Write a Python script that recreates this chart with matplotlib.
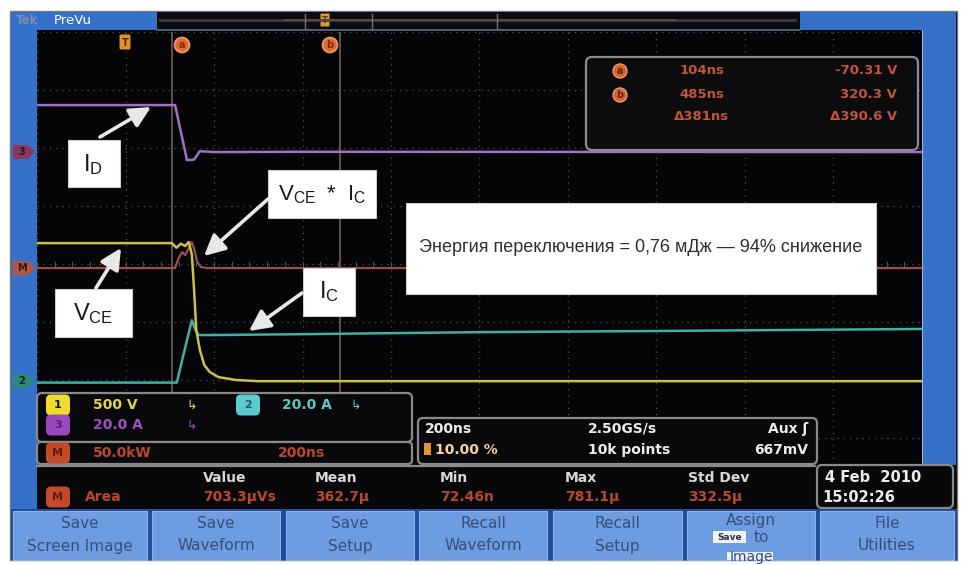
import matplotlib
matplotlib.use('Agg')
import matplotlib.pyplot as plt
from matplotlib.patches import FancyBboxPatch, Rectangle, Polygon, Circle

W, H = 962, 565

# ---------------- data (time in ns) ----------------
vce_t = [-200, 105, 115, 125, 135, 143, 150, 155, 160, 168, 178, 190, 210, 250, 300, 1800]
vce_v = [1190, 1190, 1150, 1185, 1165, 1200, 1090, 785, 440, 270, 140, 80, 35, 10, 0, 0]

ic_t = [-200, 116, 130, 150, 157, 165, 200, 400, 800, 1200, 1800]
ic_a = [-0.5, -0.5, 8.5, 21.0, 18.0, 15.9, 15.9, 16.2, 16.9, 17.3, 18.0]

id_t = [-200, 112, 139, 155, 168, 200, 400, 1800]
id_a = [16.2, 16.2, -2.8, -2.6, 0.3, 0.0, 0.1, 0.0]

pwr_t = [-200, 112, 120, 128, 135, 143, 150, 156, 162, 170, 185, 1800]
pwr_kw = [0, 0, 8.6, 13.8, 11.2, 17.2, 22.4, 15.5, 5.2, 0.9, 0, 0]

cursor_a_ns = 104
cursor_b_ns = 485
cursor_rows = [("a", "104ns", "-70.31 V"), ("b", "485ns", "320.3 V"), ("", "\u0394381ns", "\u0394390.6 V")]

ch_rows = [("1", "500 V"), ("2", "20.0 A"), ("3", "20.0 A"), ("M", "50.0kW")]
math_time = "200ns"
timebase = ["200ns", "10.00 %", "2.50GS/s", "10k points", "Aux \u0283", "667mV"]
meas_headers = ["Value", "Mean", "Min", "Max", "Std Dev"]
meas_values = ["703.3\u03bcVs", "362.7\u03bc", "72.46n", "781.1\u03bc", "332.5\u03bc"]
date_text = ["4 Feb  2010", "15:02:26"]
buttons = ["Save\nScreen Image", "Save\nWaveform", "Save\nSetup", "Recall\nWaveform",
           "Recall\nSetup", "Assign\n to\n", "File\nUtilities"]
energy_text = "Энергия переключения = 0,76 мДж — 94% снижение"

# channel display settings (div scale and ground position in divisions)
ch1_scale, ch1_gnd = 500.0, 1.98
ch2_scale, ch2_gnd = 20.0, 1.98
ch3_scale, ch3_gnd = 20.0, 5.93
m_scale, m_gnd = 50.0, 3.93

fig = plt.figure(figsize=(9.62, 5.65), dpi=100)
fig.patch.set_facecolor('white')

def px_axes(z):
    a = fig.add_axes([0, 0, 1, 1], zorder=z)
    a.set_xlim(0, W); a.set_ylim(H, 0); a.axis('off')
    a.patch.set_alpha(0)
    return a

bg = px_axes(0)
BLUE = '#3571c9'
# outer frame
bg.add_patch(Rectangle((10, 11), 947, 549, facecolor='#050507', edgecolor='#777777', lw=1))
# top bar
bg.add_patch(Rectangle((11, 12), 146, 18, facecolor=BLUE, edgecolor='none'))
bg.add_patch(Rectangle((157, 12), 643, 18, facecolor='#0b0c10', edgecolor='none'))
bg.add_patch(Rectangle((800, 12), 156, 18, facecolor=BLUE, edgecolor='none'))
bg.text(16, 21, "Tek", color='#7d8fb0', fontsize=8.5, fontweight='bold', va='center')
bg.text(54, 20, "PreVu", color='white', fontsize=9.5, va='center')
bg.plot([160, 795], [20, 20], color='#3b3b44', lw=2)
bg.plot([285, 675], [20, 20], color='#6a4a48', lw=1.2)
for xx in [305, 372, 497]:
    bg.plot([xx, xx], [14, 28], color='#6f6f78', lw=1)
bg.plot([157, 800], [29.5, 29.5], color='#5f6f88', lw=1.2)
bg.add_patch(FancyBboxPatch((321, 14), 8, 12, boxstyle='round,pad=0.5', facecolor='#d89a3a', edgecolor='none'))
bg.text(325, 20.5, "T", color='#5a3a10', fontsize=6, ha='center', va='center', fontweight='bold')
# side strips
bg.add_patch(Rectangle((11, 30), 26, 480, facecolor=BLUE, edgecolor='none'))
bg.add_patch(Rectangle((922, 30), 34, 435, facecolor=BLUE, edgecolor='none'))
bg.plot([922, 922], [30, 465], color='#9fb4d8', lw=0.8)
# screen background
bg.add_patch(Rectangle((37, 30), 885, 480, facecolor='#050508', edgecolor='none'))

# ---------------- graticule and traces ----------------
ax = fig.add_axes([37 / W, (H - 496) / H, 885 / W, 464 / H], zorder=1)
ax.set_facecolor('#050508')
ax.set_xlim(-200, 1800)
ax.set_ylim(0, 8)
for s in ax.spines.values():
    s.set_visible(False)
ax.set_xticks([]); ax.set_yticks([])
for k in range(11):
    ax.axvline(-200 + 200 * k, color='#505058', lw=0.9, ls=(0, (1, 4)))
for k in range(9):
    ax.axhline(k, color='#505058', lw=0.9, ls=(0, (1, 4)))
for k in range(51):
    x = -200 + 40 * k
    ax.plot([x, x], [3.96, 4.04], color='#505058', lw=0.8)

ax.axvline(cursor_a_ns, color='#7a6468', lw=1.1)
ax.axvline(cursor_b_ns, color='#7a6468', lw=1.1)

ax.plot(pwr_t, [m_gnd + v / m_scale for v in pwr_kw], color='#9a5046', lw=1.6)
ax.plot(id_t, [ch3_gnd + v / ch3_scale for v in id_a], color='#a070c4', lw=1.8)
ax.plot(ic_t, [ch2_gnd + v / ch2_scale for v in ic_a], color='#3fb0a4', lw=1.8)
ax.plot(vce_t, [ch1_gnd + v / ch1_scale for v in vce_v], color='#cdbf4e', lw=1.8)

# ---------------- overlay ----------------
ov = px_axes(3)

def rbox(x0, y0, x1, y1, fc='#0a0a0c', ec='#8a8a8a', lw=1.5, r=4, z=3):
    ov.add_patch(FancyBboxPatch((x0 + r, y0 + r), x1 - x0 - 2 * r, y1 - y0 - 2 * r,
                                boxstyle='round,pad=%g' % r, facecolor=fc, edgecolor=ec, lw=lw, zorder=z))

def badge(x, y, label, fc, tc='#101010', w=24, h=13):
    ov.add_patch(FancyBboxPatch((x - w / 2 + 5, y - h / 2 + 1), w - 10, h - 2,
                                boxstyle='round,pad=5', facecolor=fc, edgecolor='none', zorder=5))
    ov.text(x, y + 0.5, label, color=tc, fontsize=8, fontweight='bold', ha='center', va='center', zorder=6)

# left strip markers
for yy, lab, col in [(152, "3", '#8e3560'), (268, "M", '#b8563c'), (381, "2", '#2c8a7c')]:
    ov.add_patch(Polygon([[13, yy - 7], [28, yy - 7], [35, yy], [28, yy + 7], [13, yy + 7]],
                         closed=True, facecolor=col, edgecolor='none', zorder=4))
    ov.text(22, yy, lab, color='#1a1a2a', fontsize=7, ha='center', va='center', fontweight='bold', zorder=5)

# top markers
ov.add_patch(FancyBboxPatch((121, 36), 8, 12, boxstyle='round,pad=1.5', facecolor='#e0902e', edgecolor='none', zorder=4))
ov.text(125, 42.5, "T", color='#4a2a08', fontsize=7, fontweight='bold', ha='center', va='center', zorder=5)
for xx, lab in [(182, "a"), (330, "b")]:
    ov.add_patch(Circle((xx, 45), 7.5, facecolor='#e06a36', edgecolor='#f09a6a', lw=1.2, zorder=4))
    ov.text(xx, 45, lab, color='#7a2a10', fontsize=7, fontweight='bold', ha='center', va='center', zorder=5)

# cursor readout
rbox(586, 57, 918, 150, fc='#0c0c0e', ec='#8c8c8c', lw=1.6, r=6)
RED = '#c0553a'
for (lab, tv, vv), yy in zip(cursor_rows, [71, 95, 117]):
    if lab:
        ov.add_patch(Circle((620, yy), 7, facecolor='#d8642e', edgecolor='#f09a6a', lw=1, zorder=5))
        ov.text(620, yy, lab, color='#6a2008', fontsize=7, fontweight='bold', ha='center', va='center', zorder=6)
    ov.text(702, yy, tv, color=RED, fontsize=9.5, fontweight='bold', ha='center', va='center', zorder=6)
    ov.text(897, yy, vv, color=RED, fontsize=9.5, fontweight='bold', ha='right', va='center', zorder=6)

# white annotation boxes
def wbox(x0, y0, x1, y1):
    ov.add_patch(Rectangle((x0, y0), x1 - x0, y1 - y0, facecolor='white', edgecolor='#cccccc', lw=0.8, zorder=7))

LF = ['Liberation Sans', 'DejaVu Sans']
wbox(68, 140, 120, 187)
ov.text(93, 165, r'$\mathregular{I_D}$', fontsize=17, family=LF, color='#1a1a1a', ha='center', va='center', zorder=8)
wbox(268, 170, 376, 218)
ov.text(322, 195, r'$\mathregular{V_{CE}\ *\ I_C}$', fontsize=16, family=LF, color='#1a1a1a', ha='center', va='center', zorder=8)
wbox(55, 289, 132, 337)
ov.text(93, 314, r'$\mathregular{V_{CE}}$', fontsize=17, family=LF, color='#1a1a1a', ha='center', va='center', zorder=8)
wbox(303, 268, 355, 316)
ov.text(329, 292, r'$\mathregular{I_C}$', fontsize=17, family=LF, color='#1a1a1a', ha='center', va='center', zorder=8)
wbox(406, 203, 876, 294)
ov.text(641, 248, energy_text, fontsize=13, family=['Liberation Sans Narrow', 'Liberation Sans', 'DejaVu Sans'],
        color='#2e2e2e', ha='center', va='center', zorder=8)

def arrow(x0, y0, x1, y1):
    ov.annotate('', xy=(x1, y1), xytext=(x0, y0), zorder=8,
                arrowprops=dict(arrowstyle='-|>,head_length=0.9,head_width=0.45', color='#e8e8e8', lw=2.6,
                                shrinkA=0, shrinkB=0, mutation_scale=14))

arrow(100, 137, 151, 107)
arrow(268, 199, 204, 256)
arrow(96, 288, 121, 248)
arrow(302, 293, 249, 331)

# channel readout panel
rbox(37, 393, 412, 442, fc='#09090b', ec='#8a8a8a', lw=1.6, r=5)
rbox(37, 442, 412, 464, fc='#09090b', ec='#8a8a8a', lw=1.6, r=4)
YEL, CYA, PUR, ORG = '#e2d448', '#59c8c0', '#a24ec4', '#b8482c'
badge(58, 405, ch_rows[0][0], '#f0dc28')
ov.text(93, 405, ch_rows[0][1], color=YEL, fontsize=10, fontweight='bold', va='center', zorder=6)
ov.text(186, 405, "\u21b3", color=YEL, fontsize=9, va='center', zorder=6)
badge(248, 405, ch_rows[1][0], '#5ccbd0', tc='#1a5a60')
ov.text(282, 405, ch_rows[1][1], color=CYA, fontsize=10, fontweight='bold', va='center', zorder=6)
ov.text(350, 405, "\u21b3", color=CYA, fontsize=9, va='center', zorder=6)
badge(58, 425, ch_rows[2][0], '#9a48c0', tc='#5a2070')
ov.text(93, 425, ch_rows[2][1], color=PUR, fontsize=10, fontweight='bold', va='center', zorder=6)
ov.text(186, 425, "\u21b3", color=PUR, fontsize=9, va='center', zorder=6)
badge(58, 453, ch_rows[3][0], '#c04a2a', tc='#6a1a08')
ov.text(93, 453, ch_rows[3][1], color=ORG, fontsize=10, fontweight='bold', va='center', zorder=6)
ov.text(278, 453, math_time, color=ORG, fontsize=10, fontweight='bold', va='center', zorder=6)

# timebase panel
rbox(418, 418, 817, 464, fc='#09090b', ec='#8a8a8a', lw=1.6, r=5)
WT = '#ededed'
ov.text(425, 429, timebase[0], color=WT, fontsize=10, fontweight='bold', va='center', zorder=6)
ov.add_patch(Rectangle((424, 443), 7, 12, facecolor='#e0962e', edgecolor='none', zorder=6))
ov.text(435, 450, timebase[1], color='#f2d2a0', fontsize=10, fontweight='bold', va='center', zorder=6)
ov.text(588, 429, timebase[2], color=WT, fontsize=10, fontweight='bold', va='center', zorder=6)
ov.text(588, 450, timebase[3], color=WT, fontsize=10, fontweight='bold', va='center', zorder=6)
ov.text(808, 429, timebase[4], color=WT, fontsize=10, fontweight='bold', va='center', ha='right', zorder=6)
ov.text(808, 450, timebase[5], color=WT, fontsize=10, fontweight='bold', va='center', ha='right', zorder=6)

# measurement panel
ov.add_patch(Rectangle((37, 465), 778, 43, facecolor='#08080a', edgecolor='none', zorder=4))
ov.plot([37, 815], [465.5, 465.5], color='#8a8a8a', lw=1.6, zorder=5)
hx = [203, 315, 440, 565, 688]
for x, h, v in zip(hx, meas_headers, meas_values):
    ov.text(x, 478, h, color='#d6d6d6', fontsize=10, fontweight='bold', va='center', zorder=6)
    ov.text(x, 497, v, color=ORG, fontsize=10, fontweight='bold', va='center', zorder=6)
badge(58, 497, "M", '#c04a2a', tc='#6a1a08')
ov.text(85, 497, "Area", color=ORG, fontsize=10, fontweight='bold', va='center', zorder=6)

# date panel
rbox(817, 465, 953, 508, fc='#08080a', ec='#8a8a8a', lw=1.6, r=5)
ov.text(825, 478, date_text[0], color=WT, fontsize=10.5, fontweight='bold', va='center', zorder=6)
ov.text(822, 497, date_text[1], color=WT, fontsize=10.5, fontweight='bold', va='center', zorder=6)

# bottom buttons
ov.add_patch(Rectangle((11, 509), 946, 51, facecolor='#1f4c9e', edgecolor='none', zorder=4))
bx = [(12, 148), (151, 281), (285, 415), (418, 548), (552, 683), (686, 816), (819, 955)]
BT = '#35507c'
for (x0, x1), lab in zip(bx, buttons):
    ov.add_patch(Rectangle((x0 + 1, 511), x1 - x0 - 2, 49, facecolor='#6e9ce0', edgecolor='#8cb2ea', lw=0.8, zorder=5))
    lines = lab.split('\n')
    cx = (x0 + x1) / 2
    if len(lines) == 2:
        ov.text(cx, 523, lines[0], color=BT, fontsize=11, ha='center', va='center', zorder=6)
        ov.text(cx, 546, lines[1], color=BT, fontsize=11, ha='center', va='center', zorder=6)
    else:
        ov.text(cx, 521, lines[0], color=BT, fontsize=11, ha='center', va='center', zorder=6)
        ov.add_patch(Rectangle((cx - 38, 531), 33, 12, facecolor='#f2f2f2', edgecolor='none', zorder=6))
        ov.text(cx - 21.5, 537, "Save", color='#203050', fontsize=6.5, fontweight='bold', ha='center', va='center', zorder=7)
        ov.text(cx + 10, 537, "to", color=BT, fontsize=11, ha='center', va='center', zorder=6)
        ov.add_patch(Rectangle((cx - 24, 552), 46, 8, facecolor='#e8eef8', edgecolor='none', zorder=6))
        t = ov.text(cx, 557, "Image", color=BT, fontsize=10, ha='center', va='center', zorder=7)
        t.set_clip_path(Rectangle((0, 0), W, 560, transform=ov.transData))

fig.savefig('out.png', dpi=100, facecolor='white')
